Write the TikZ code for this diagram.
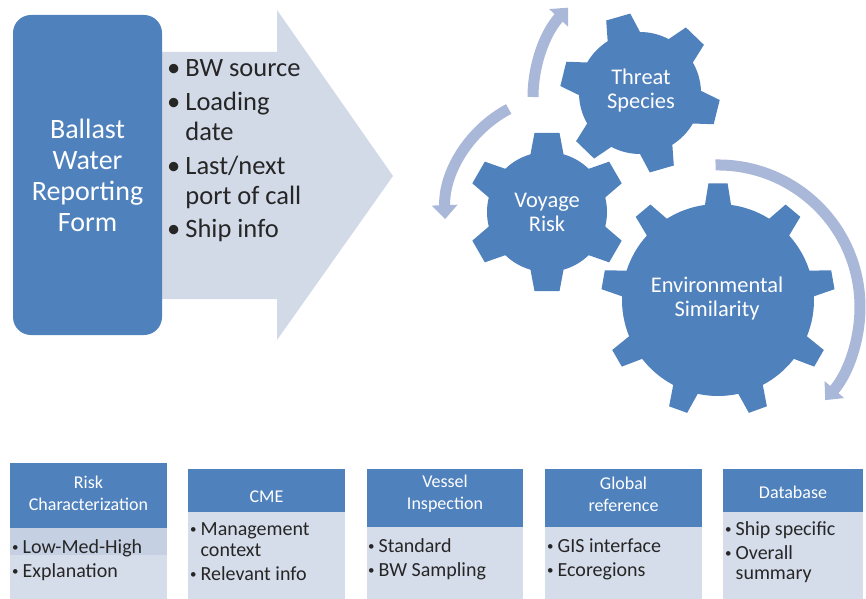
\documentclass[tikz,border=0pt]{standalone}
\usepackage{fontspec}
\setmainfont{Carlito}
\usetikzlibrary{arrows.meta}
\definecolor{gearblue}{HTML}{4F81BD}
\definecolor{arcblue}{HTML}{A9B8D8}
\definecolor{bigarrowfill}{HTML}{D2DAE8}
\definecolor{bodyfill}{HTML}{D5DCEA}
\definecolor{hilite}{HTML}{C6D0E3}
\newcommand{\gearshape}[7]{% cx,cy,N,R,r,outer half angle,base half angle ; offset via \gearoff
  \begin{scope}[shift={(#1,#2)}]
    \pgfmathsetmacro{\gstep}{360/#3}
    \pgfmathtruncatemacro{\glast}{#3-1}
    \fill[gearblue] ({\gearoff-#7}:#5)
      \foreach \i in {0,...,\glast}{
        -- ({\gearoff+\gstep*\i-#7}:#5)
        -- ({\gearoff+\gstep*\i-#6}:#4)
        -- ({\gearoff+\gstep*\i+#6}:#4)
        -- ({\gearoff+\gstep*\i+#7}:#5)
        arc[start angle={\gearoff+\gstep*\i+#7}, end angle={\gearoff+\gstep*(\i+1)-#7}, radius=#5]
      } -- cycle;
  \end{scope}}
\newcommand{\smbul}{\raisebox{1.8pt}{\fontsize{13}{13}\selectfont\textbullet}}
\tikzset{
  bigtxt/.style={font=\fontsize{28}{31}\selectfont, text=white, align=center},
  geartxt/.style={font=\fontsize{22.4}{24}\selectfont, text=white, align=center},
  listtxt/.style={font=\fontsize{26.5}{30}\selectfont, text=black!85, inner sep=0pt},
  hdrtxt/.style={font=\fontsize{18}{22}\selectfont, text=white, align=center, inner sep=0pt},
  bodytxt/.style={font=\fontsize{20}{20.5}\selectfont, text=black!85, inner sep=0pt, anchor=base west},
  cyc/.style={draw=arcblue, line width=11pt, -{Triangle[width=25pt,length=14pt]}},
}
\begin{document}
\begin{tikzpicture}[x=1pt,y=1pt]
\useasboundingbox (0,0) rectangle (866,598);
\fill[white] (0,0) rectangle (866,598);

% big arrow
\fill[bigarrowfill] (150,546) -- (277,546) -- (277,588) -- (393,422) -- (277,258) -- (277,299) -- (150,299) -- cycle;
% ballast box
\fill[gearblue, rounded corners=18pt] (13,263) rectangle (162,583);
\node[bigtxt] (form) at (87.5,423) {Ballast\\Water\\Reporting\\Form};

\node[listtxt, anchor=base west] (items) at (167,521) {%
  \begin{tabular}[t]{@{}l@{\hspace{5pt}}l@{}}
  \textbullet & BW source\\[4pt]
  \textbullet & Loading\\
  & date\\[4pt]
  \textbullet & Last/next\\
  & port of call\\[3pt]
  \textbullet & Ship info
  \end{tabular}};

% gears
\def\gearoff{46}
\gearshape{640}{505}{6}{80}{61}{9}{16}
\def\gearoff{90}
\gearshape{547}{386}{6}{80}{60}{9}{16}
\def\gearoff{90}
\gearshape{718}{298}{9}{117}{96}{4.7}{7.8}

\node[geartxt] (threat) at (641,507) {Threat\\Species};
\node[geartxt] (voyage) at (547,386) {Voyage\\Risk};
\node[geartxt] (env) at (717,299) {Environmental\\Similarity};

% cycle arrows
\draw[cyc] (533,501) arc[start angle=180, end angle=137, radius=131];
\draw[cyc] (508.7,489) arc[start angle=118, end angle=182, radius=120];
\draw[cyc] (715.5,433) arc[start angle=91, end angle=-41, radius=142];

% bottom boxes
\fill[bodyfill] (10,-2) rectangle (167,70);
\fill[hilite] (10,43) rectangle (167,70);
\fill[gearblue] (10,70) rectangle (167,135);
\fill[bodyfill] (188,-2) rectangle (345,86);
\fill[gearblue] (188,86) rectangle (345,129);
\fill[bodyfill] (367,-2) rectangle (523,71);
\fill[gearblue] (367,71) rectangle (523,129);
\fill[bodyfill] (545,-2) rectangle (702,71);
\fill[gearblue] (545,71) rectangle (702,129);
\fill[bodyfill] (723,-2) rectangle (863,86);
\fill[gearblue] (723,86) rectangle (863,129);

\node[hdrtxt] (h1) at (88.5,105) {Risk\\Characterization};
\node[hdrtxt] (h2) at (266.5,101) {CME};
\node[hdrtxt] (h3) at (445,104) {Vessel\\Inspection};
\node[hdrtxt] (h4) at (623.5,104) {Global\\reference};
\node[hdrtxt] (h5) at (793,106) {Database};

\node[bodytxt] (b1) at (12,44.5) {\begin{tabular}[t]{@{}l@{\hspace{4pt}}l@{}}\smbul & Low-Med-High\\[3pt] \smbul & Explanation\end{tabular}};
\node[bodytxt] (b2) at (190,62.5) {\begin{tabular}[t]{@{}l@{\hspace{4pt}}l@{}}\smbul & Management\\ & context\\[3.5pt] \smbul & Relevant info\end{tabular}};
\node[bodytxt] (b3) at (368,45.5) {\begin{tabular}[t]{@{}l@{\hspace{4pt}}l@{}}\smbul & Standard\\[3pt] \smbul & BW Sampling\end{tabular}};
\node[bodytxt] (b4) at (547,45.5) {\begin{tabular}[t]{@{}l@{\hspace{4pt}}l@{}}\smbul & GIS interface\\[3pt] \smbul & Ecoregions\end{tabular}};
\node[bodytxt] (b5) at (725,62.5) {\begin{tabular}[t]{@{}l@{\hspace{4pt}}l@{}}\smbul & Ship specific\\[3pt] \smbul & Overall\\ & summary\end{tabular}};
\end{tikzpicture}
\end{document}
